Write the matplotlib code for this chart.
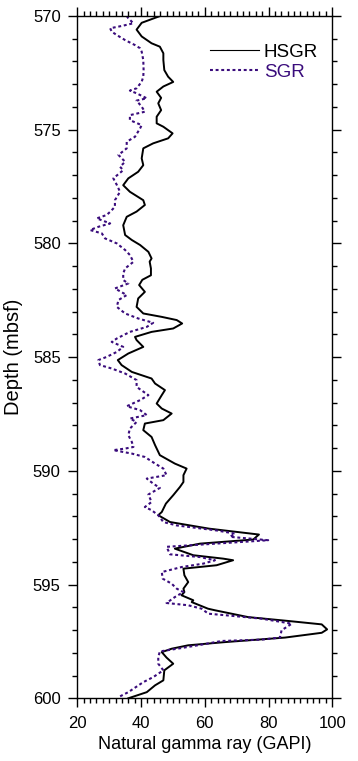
import matplotlib
matplotlib.use("Agg")
import matplotlib.pyplot as plt
from matplotlib.ticker import MultipleLocator

plt.rcParams['font.family'] = ['Liberation Sans', 'DejaVu Sans']

# HSGR (solid black)
depth_hsgr = [570.0, 570.3, 570.6, 570.9, 571.2, 571.35, 571.64, 571.94, 572.38, 572.67, 572.9,
              573.1, 573.33, 573.6, 573.84, 574.14, 574.43, 574.72, 574.87, 575.16, 575.38, 575.6,
              575.82, 576.26, 576.56, 576.85, 577.14, 577.44, 577.73, 578.1, 578.31, 578.6, 578.83,
              579.2, 579.63, 579.85, 580.07, 580.37, 580.66, 580.8, 581.1, 581.4, 581.6, 581.83,
              582.13, 582.42, 582.79, 583.08, 583.23, 583.37, 583.52, 583.74, 583.89, 584.11, 584.25,
              584.55, 584.84, 585.13, 585.35, 585.65, 585.94, 586.16, 586.45, 586.67, 587.04, 587.26,
              587.48, 587.77, 587.92, 588.21, 588.51, 588.87, 589.31, 589.68, 589.9, 590.19, 590.49,
              590.71, 591.07, 591.44, 591.81, 591.95, 592.25, 592.54, 592.8, 593.02, 593.2, 593.42,
              593.71, 593.86, 593.93, 594.15, 594.3, 594.59, 594.89, 595.18, 595.33, 595.47, 595.69,
              595.77, 596.06, 596.13, 596.43, 596.6, 596.75, 596.97, 597.12, 597.33, 597.53, 597.67,
              597.82, 597.97, 598.21, 598.48, 598.77, 599.21, 599.43, 599.73, 600.0]
hsgr = [46.0, 40.2, 38.6, 40.2, 43.3, 45.9, 47.0, 47.0, 47.3, 48.5, 50.1,
        47.0, 44.9, 46.3, 45.4, 46.3, 44.9, 44.9, 47.0, 49.9, 48.5, 43.8,
        40.7, 40.2, 40.7, 39.1, 36.0, 34.4, 36.5, 40.7, 41.2, 38.6, 35.5,
        34.4, 35.0, 37.1, 39.7, 42.3, 43.3, 42.7, 43.1, 43.1, 40.4, 39.4,
        41.2, 39.1, 38.6, 40.7, 46.5, 51.2, 52.9, 50.1, 43.3, 38.1, 38.6,
        40.7, 36.0, 32.7, 33.9, 37.1, 43.3, 44.4, 47.5, 46.5, 44.9, 46.5,
        49.6, 47.0, 41.2, 40.7, 43.3, 44.4, 45.9, 50.6, 54.3, 53.3, 53.3,
        52.2, 50.1, 47.8, 46.5, 45.4, 49.1, 61.3, 77.0, 75.2, 58.5, 50.6,
        56.4, 65.8, 68.9, 63.7, 53.3, 53.6, 54.8, 53.3, 53.6, 52.7, 56.4,
        55.9, 61.0, 63.2, 73.6, 86.2, 96.7, 98.4, 96.7, 85.2, 66.3, 54.8,
        49.6, 46.5, 48.0, 50.1, 47.3, 47.0, 44.4, 41.8, 36.0]

# SGR (dotted purple)
depth_sgr = [570.0, 570.1, 570.32, 570.44, 570.54, 570.69, 570.84, 571.06, 571.28, 571.42, 571.57,
             571.94, 572.38, 572.67, 572.89, 573.18, 573.28, 573.4, 573.62, 573.72, 573.99, 574.21,
             574.36, 574.58, 574.8, 574.94, 575.31, 575.53, 575.82, 576.11, 576.41, 576.63, 576.78,
             577.14, 577.43, 577.73, 578.1, 578.39, 578.61, 578.75, 578.9, 579.12, 579.27, 579.41,
             579.56, 579.78, 580.0, 580.29, 580.51, 580.81, 581.1, 581.32, 581.61, 581.76, 581.98,
             582.27, 582.49, 582.79, 583.08, 583.3, 583.49, 583.67, 583.89, 584.18, 584.33, 584.55,
             584.77, 584.99, 585.13, 585.35, 585.5, 585.72, 586.01, 586.31, 586.67, 586.89, 587.16,
             587.33, 587.55, 587.7, 587.85, 588.14, 588.43, 588.73, 588.95, 589.02, 589.09, 589.24,
             589.39, 589.68, 589.9, 590.19, 590.34, 590.56, 590.75, 591.04, 591.37, 591.59, 591.73,
             591.95, 592.25, 592.4, 592.62, 592.76, 592.9, 593.05, 593.17, 593.34, 593.67, 593.79,
             593.93, 594.08, 594.23, 594.45, 594.74, 594.96, 595.18, 595.33, 595.55, 595.81, 595.91,
             596.06, 596.28, 596.36, 596.5, 596.72, 597.01, 597.33, 597.42, 597.48, 597.64, 597.79,
             597.94, 598.19, 598.48, 598.77, 599.07, 599.29, 599.73, 599.95]
sgr = [35.5, 36.0, 37.6, 33.9, 30.3, 30.8, 32.4, 35.0, 38.1, 39.7, 40.2,
       40.7, 40.8, 40.7, 40.2, 38.6, 36.5, 38.6, 41.8, 38.6, 40.2, 41.2,
       36.5, 36.5, 40.2, 39.7, 38.1, 35.5, 35.5, 32.9, 35.0, 33.4, 34.4,
       31.3, 32.4, 33.4, 31.8, 31.8, 30.3, 29.2, 26.1, 30.3, 26.6, 24.0,
       27.7, 28.7, 32.4, 35.0, 36.5, 37.6, 35.0, 34.4, 34.4, 36.0, 31.8,
       35.5, 32.9, 32.4, 35.0, 39.1, 43.8, 41.8, 36.5, 32.4, 30.8, 34.4,
       32.4, 29.2, 26.6, 27.1, 30.8, 35.0, 38.6, 38.6, 42.3, 39.7, 35.5,
       39.7, 41.8, 36.5, 38.6, 36.5, 36.0, 37.1, 37.6, 35.0, 31.3, 37.1,
       41.2, 44.4, 47.0, 48.0, 41.8, 43.8, 45.9, 42.3, 43.3, 41.2, 43.3,
       45.4, 47.0, 51.2, 63.7, 69.5, 67.9, 79.9, 66.9, 48.0, 49.1, 58.5,
       63.2, 59.5, 52.7, 46.5, 46.8, 49.6, 51.2, 53.3, 50.6, 48.0, 54.8,
       59.0, 61.1, 67.4, 77.9, 87.3, 84.1, 83.6, 77.9, 65.3, 59.0, 52.7,
       45.9, 45.4, 45.4, 47.0, 43.8, 40.7, 36.0, 32.9]

purple = '#3a0c7c'

fig = plt.figure(figsize=(3.58, 7.61), dpi=100)
ax = fig.add_axes([0.216, 0.0824, 0.712, 0.8966])

ax.plot(hsgr, depth_hsgr, color='black', lw=1.4, label='HSGR', solid_joinstyle='round')
ax.plot(sgr, depth_sgr, color=purple, lw=1.5, linestyle=(0, (1.4, 1.3)), label='SGR')

ax.set_xlim(20, 100)
ax.set_ylim(600, 570)
ax.xaxis.set_major_locator(MultipleLocator(20))
ax.xaxis.set_minor_locator(MultipleLocator(2))
ax.yaxis.set_major_locator(MultipleLocator(5))
ax.yaxis.set_minor_locator(MultipleLocator(1))

ax.tick_params(which='both', direction='out', top=True, right=True, labelsize=12,
               width=1.0, color='black')
ax.tick_params(which='major', length=6.5)
ax.tick_params(which='minor', length=3.6)
ax.tick_params(axis='x', which='major', pad=6.5)
ax.tick_params(axis='y', which='major', pad=5.5)
for s in ax.spines.values():
    s.set_linewidth(1.0)

ax.set_xlabel('Natural gamma ray (GAPI)', fontsize=13)
ax.set_ylabel('Depth (mbsf)', fontsize=14.5)
ax.xaxis.set_label_coords(0.5, -0.055)
ax.yaxis.set_label_coords(-0.215, 0.5)

leg = ax.legend(loc='upper right', frameon=False, fontsize=13.5, handlelength=2.6,
                handletextpad=0.27, borderaxespad=0.0, borderpad=0.4, labelspacing=0.15,
                bbox_to_anchor=(325.5 / 358, 1 - 36 / 761), bbox_transform=fig.transFigure)
leg.get_lines()[0].set_linewidth(0.8)
leg.get_texts()[1].set_color(purple)

fig.savefig('out.png', dpi=100)
